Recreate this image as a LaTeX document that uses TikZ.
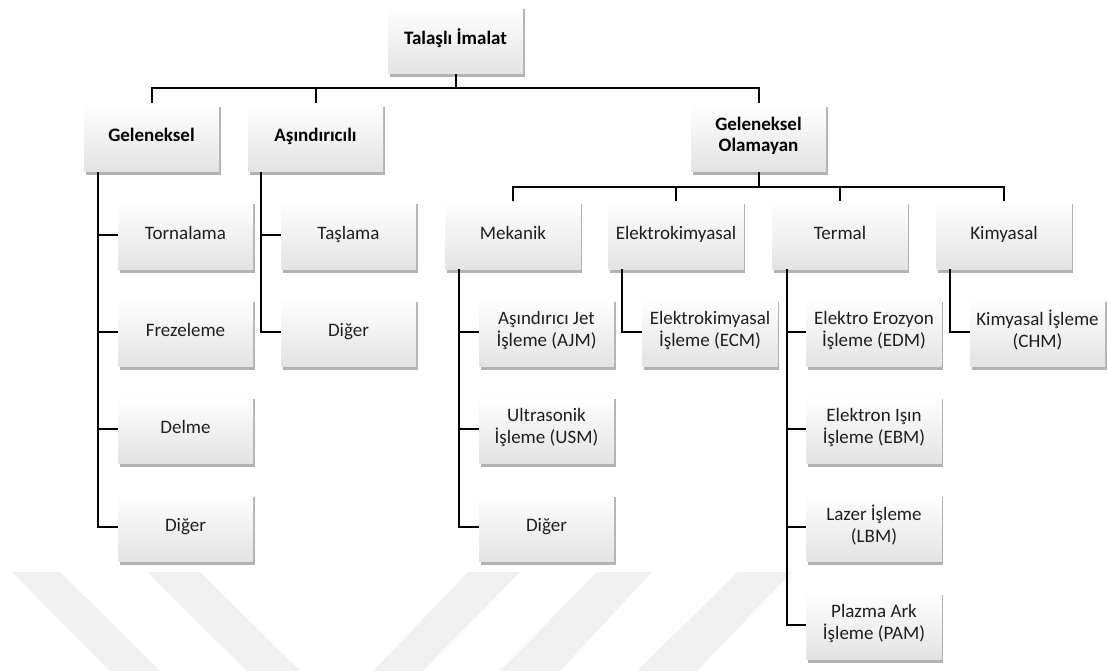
\documentclass[tikz,border=0pt]{standalone}
\usepackage{fontspec}
\setmainfont{Carlito}
\usetikzlibrary{shadows}
\begin{document}
\begin{tikzpicture}[x=1pt,y=-1pt,
  box/.style={minimum width=135pt,minimum height=68pt,inner sep=2pt,
    top color=white,bottom color=black!11,align=center,text=black!88,
    font=\fontsize{19}{21.5}\selectfont,
    execute at begin node=\strut,execute at end node=\strut,
    drop shadow={shadow xshift=1.5pt,shadow yshift=-3.5pt,fill=black,opacity=0.3}},
  hbox/.style={box,font=\fontsize{19}{21.5}\selectfont\bfseries,text=black},
  conn/.style={draw=black,line width=2pt},
  wm/.style={fill=black!6,draw=none}]
\useasboundingbox (0,0) rectangle (1108,671);
% watermark
\fill[wm] (12,572) -- (60,572) -- (160,671) -- (110,671) -- cycle;
\fill[wm] (147,572) -- (200,572) -- (300,671) -- (247,671) -- cycle;
\fill[wm] (468,572) -- (520,572) -- (423,671) -- (373,671) -- cycle;
\fill[wm] (597,572) -- (652,572) -- (560,671) -- (500,671) -- cycle;
\fill[wm] (738,572) -- (792,572) -- (697,671) -- (637,671) -- cycle;
% nodes
\node[hbox] (top) at (455.5,40) {Talaşlı İmalat};
\node[hbox] (gel) at (151.5,137.5) {Geleneksel};
\node[hbox] (asi) at (315.5,137.5) {Aşındırıcılı};
\node[hbox] (gol) at (758.5,137.5) {Geleneksel\\Olamayan};
\node[box] (mek) at (513,235) {Mekanik};
\node[box] (elk) at (676,235) {Elektrokimyasal};
\node[box] (ter) at (840,235) {Termal};
\node[box] (kim) at (1004,235) {Kimyasal};
\node[box] (torn) at (185.5,235) {Tornalama};
\node[box] (frez) at (185.5,332) {Frezeleme};
\node[box] (delm) at (185.5,429) {Delme};
\node[box] (dig1) at (185.5,527) {Diğer};
\node[box] (tasl) at (348.5,235) {Taşlama};
\node[box] (dig2) at (348.5,332) {Diğer};
\node[box] (ajm) at (546.5,332) {Aşındırıcı Jet\\İşleme (AJM)};
\node[box] (usm) at (546.5,429) {Ultrasonik\\İşleme (USM)};
\node[box] (dig3) at (546.5,527) {Diğer};
\node[box] (ecm) at (710,332) {Elektrokimyasal\\İşleme (ECM)};
\node[box] (edm) at (874,332) {Elektro Erozyon\\İşleme (EDM)};
\node[box] (ebm) at (874,429) {Elektron Işın\\İşleme (EBM)};
\node[box] (lbm) at (874,527) {Lazer İşleme\\(LBM)};
\node[box] (pam) at (874,625) {Plazma Ark\\İşleme (PAM)};
\node[box] (chm) at (1037.5,332) {Kimyasal İşleme\\(CHM)};
% bus coordinates
\coordinate (b1) at (0,88);
\coordinate (b2) at (0,187);
\coordinate (s1) at (98,0);
\coordinate (s2) at (261,0);
\coordinate (s3) at (459,0);
\coordinate (s4) at (622,0);
\coordinate (s5) at (787,0);
\coordinate (s6) at (950,0);
% level 1
\draw[conn] (top.south) -- (top.south |- b1);
\draw[conn] (gel.north) |- (gol.north |- b1) -- (gol.north);
\draw[conn] (asi.north) -- (asi.north |- b1);
% level 2
\draw[conn] (gol.south) -- (gol.south |- b2);
\draw[conn] (mek.north) |- (kim.north |- b2) -- (kim.north);
\draw[conn] (elk.north) -- (elk.north |- b2);
\draw[conn] (ter.north) -- (ter.north |- b2);
% side trees
\draw[conn] (gel.south -| s1) |- (dig1.west);
\draw[conn] (s1 |- torn.west) -- (torn.west);
\draw[conn] (s1 |- frez.west) -- (frez.west);
\draw[conn] (s1 |- delm.west) -- (delm.west);
\draw[conn] (asi.south -| s2) |- (dig2.west);
\draw[conn] (s2 |- tasl.west) -- (tasl.west);
\draw[conn] (mek.south -| s3) |- (dig3.west);
\draw[conn] (s3 |- ajm.west) -- (ajm.west);
\draw[conn] (s3 |- usm.west) -- (usm.west);
\draw[conn] (elk.south -| s4) |- (ecm.west);
\draw[conn] (ter.south -| s5) |- (pam.west);
\draw[conn] (s5 |- edm.west) -- (edm.west);
\draw[conn] (s5 |- ebm.west) -- (ebm.west);
\draw[conn] (s5 |- lbm.west) -- (lbm.west);
\draw[conn] (kim.south -| s6) |- (chm.west);
\end{tikzpicture}
\end{document}
